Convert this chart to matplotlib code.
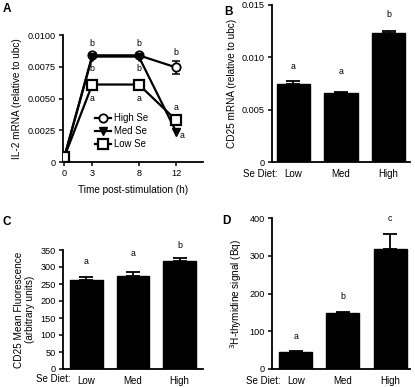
import matplotlib
matplotlib.use("Agg")
import matplotlib.pyplot as plt
import numpy as np

plt.rcParams['font.family'] = ['Liberation Sans', 'DejaVu Sans']
plt.rcParams['font.size'] = 7.2

# Panel A: IL-2 mRNA time course
hours = [0, 3, 8, 12]
il2_high = [0.0004, 0.0084, 0.0084, 0.00745]
il2_high_err = [0.0, 0.0001, 0.0001, 0.0005]
il2_med = [0.0004, 0.0083, 0.0083, 0.0024]
il2_low = [0.0004, 0.0061, 0.0061, 0.0033]
# significance letters: (x, y, letter)
il2_letters = [(3, 0.0093, 'b'), (3, 0.0074, 'b'), (3, 0.0050, 'a'),
               (8, 0.0093, 'b'), (8, 0.0074, 'b'), (8, 0.0050, 'a'),
               (12, 0.0086, 'b'), (12, 0.0043, 'a'), (12.6, 0.0021, 'a')]

diets = ['Low', 'Med', 'High']

# Panel B: CD25 mRNA
cd25_mrna = [0.00745, 0.0066, 0.01235]
cd25_mrna_err = [0.0003, 0.0001, 0.0002]
cd25_mrna_letters = ['a', 'a', 'b']
cd25_mrna_letter_y = [0.0087, 0.0082, 0.0137]

# Panel C: CD25 mean fluorescence
cd25_mf = [262, 275, 318]
cd25_mf_err = [8, 10, 9]
cd25_mf_letters = ['a', 'a', 'b']
cd25_mf_letter_y = [302, 326, 350]

# Panel D: 3H-thymidine
thymidine = [45, 148, 318]
thymidine_err = [2, 3, 40]
thymidine_letters = ['a', 'b', 'c']
thymidine_letter_y = [74, 180, 387]

fig = plt.figure(figsize=(4.15, 3.87), dpi=100)
W, H = 415, 387


def add_axes_px(left, top, right, bottom):
    return fig.add_axes([left / W, 1 - bottom / H, (right - left) / W, (bottom - top) / H])


def style(ax):
    for s in ['top', 'right']:
        ax.spines[s].set_visible(False)
    for s in ['left', 'bottom']:
        ax.spines[s].set_linewidth(1.3)
    ax.tick_params(direction='out', length=3, width=1.1, pad=2, labelsize=6.6)


def bar_panel(ax, vals, errs, letters, letter_y, xlim, ylim, yticks, yticklabels, ylabel, diet_x):
    x = np.arange(len(vals))
    ax.bar(x, vals, width=0.70, color='black', edgecolor='black')
    ax.errorbar(x, vals, yerr=[np.zeros(len(vals)), errs], fmt='none', ecolor='black',
                elinewidth=1.3, capsize=5, capthick=1.3)
    for xi, ly, l in zip(x, letter_y, letters):
        ax.text(xi, ly, l, ha='center', va='bottom', fontsize=6.3)
    ax.set_xlim(*xlim)
    ax.set_ylim(*ylim)
    ax.set_yticks(yticks)
    ax.set_yticklabels(yticklabels)
    ax.set_xticks(x)
    ax.set_xticklabels(diets)
    ax.set_ylabel(ylabel)
    style(ax)
    ax.tick_params(axis='x', length=0, pad=5, labelsize=7)
    ax.text(diet_x, -0.045, 'Se Diet:', transform=ax.get_xaxis_transform(),
            ha='right', va='top', fontsize=7)


# A
axA = add_axes_px(62.5, 35, 203, 162)
axA.plot(hours, il2_high, '-', color='black', lw=1.6, marker='o', ms=6,
         mfc='white', mec='black', mew=1.3, label='High Se', zorder=3)
axA.errorbar(hours, il2_high, yerr=il2_high_err, fmt='none', ecolor='black',
             elinewidth=1.1, capsize=3, capthick=1.1, zorder=2)
axA.plot(hours, il2_med, '-', color='black', lw=1.6, marker='v', ms=6,
         mfc='black', mec='black', label='Med Se', zorder=4)
axA.plot(hours, il2_low, '-', color='black', lw=1.6, marker='s', ms=7.5,
         mfc='white', mec='black', mew=1.6, label='Low Se', zorder=5)
for x, y, l in il2_letters:
    axA.text(x, y, l, ha='center', va='center', fontsize=6.3)
axA.set_xlim(-0.2, 14.9)
axA.set_ylim(0, 0.0100)
axA.set_xticks(hours)
axA.set_yticks([0, 0.0025, 0.0050, 0.0075, 0.0100])
axA.set_yticklabels(['0', '0.0025', '0.0050', '0.0075', '0.0100'])
axA.set_xlabel('Time post-stimulation (h)', labelpad=5)
axA.set_ylabel('IL-2 mRNA (relative to ubc)')
axA.legend(loc='upper left', bbox_to_anchor=(0.20, 0.42), frameon=False,
           handlelength=1.6, handletextpad=0.3, labelspacing=0.3, borderpad=0,
           fontsize=6.9)
style(axA)

# B
axB = add_axes_px(272, 5, 410, 162)
bar_panel(axB, cd25_mrna, cd25_mrna_err, cd25_mrna_letters, cd25_mrna_letter_y,
          (-0.45, 2.45), (0, 0.015),
          [0, 0.005, 0.010, 0.015], ['0', '0.005', '0.010', '0.015'],
          'CD25 mRNA (relative to ubc)', -0.33)

# C
axC = add_axes_px(63, 250, 203, 369)
bar_panel(axC, cd25_mf, cd25_mf_err, cd25_mf_letters, cd25_mf_letter_y,
          (-0.5, 2.5), (0, 350),
          list(range(0, 351, 50)), [str(v) for v in range(0, 351, 50)],
          'CD25 Mean Fluorescence\n(arbitrary units)', -0.34)

# D
axD = add_axes_px(272, 218, 410, 369)
bar_panel(axD, thymidine, thymidine_err, thymidine_letters, thymidine_letter_y,
          (-0.5, 2.42), (0, 400),
          [0, 100, 200, 300, 400], ['0', '100', '200', '300', '400'],
          '$^3$H-thymidine signal (Bq)', -0.33)

for lab, x, y in [('A', 3, 3), ('B', 224, 6), ('C', 2, 216), ('D', 222, 215)]:
    fig.text(x / W, 1 - y / H, lab, fontsize=8.5, fontweight='bold', ha='left', va='top')

fig.savefig('out.png', dpi=100)
